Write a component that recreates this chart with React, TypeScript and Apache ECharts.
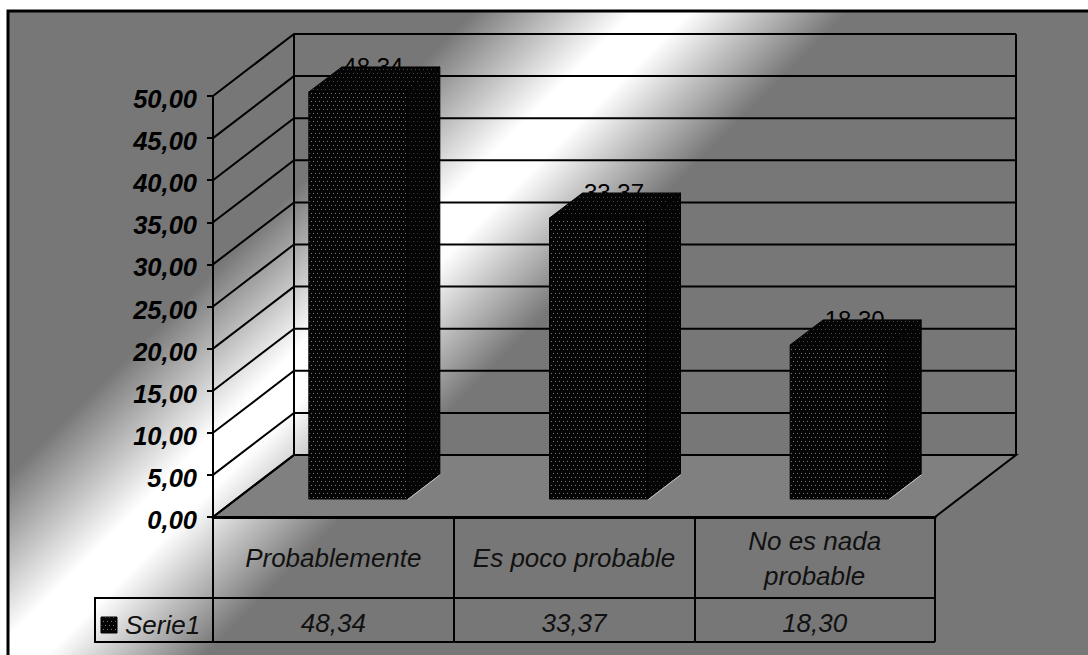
import React, { useEffect, useRef } from "react";
import * as echarts from "echarts";

const categories = ["Probablemente", "Es poco probable", "No es nada\nprobable"];
const seriesName = "Serie1";
const values = [48.34, 33.37, 18.3];
const yTicks = [0, 5, 10, 15, 20, 25, 30, 35, 40, 45, 50];

const FONT = '"Liberation Sans", Arial, sans-serif';
const PAGE_W = 1088;
const PAGE_H = 655;
const GRID = { left: 213, top: 96, width: 722, height: 421 };
// Depth of the box drawn behind the front plane
const DEPTH = { x: 81, y: 62 };
// Bar placement inside that depth
const BAR = { halfWidth: 49, inX: 24.5, inY: 18, depthX: 33, depthY: 25 };
const ROW1_BOTTOM = 598;
const ROW2_BOTTOM = 642;
const KEY_LEFT = 95;

const fmt = (v: number) => v.toFixed(2).replace(".", ",");

// Small stippled tile used as the fill of the bar faces
function stipple(dot: string) {
  const c = document.createElement("canvas");
  c.width = 8;
  c.height = 8;
  const g = c.getContext("2d")!;
  g.fillStyle = "#050505";
  g.fillRect(0, 0, 8, 8);
  g.fillStyle = dot;
  g.fillRect(1, 1, 1, 1);
  g.fillRect(5, 1, 1, 1);
  g.fillRect(3, 5, 1, 1);
  g.fillRect(7, 5, 1, 1);
  return { image: c, repeat: "repeat", imageWidth: 8, imageHeight: 8 } as any;
}

export default function App() {
  const ref = useRef<HTMLDivElement>(null);

  useEffect(() => {
    document.body.style.margin = "0";
    const chart = echarts.init(ref.current!, undefined, { renderer: "svg" });
    const frontFill = stipple("#787878");
    const topFill = stipple("#484848");
    const sideFill = stipple("#343434");
    const keyFill = stipple("#787878");
    const lineStyle = { stroke: "#000", lineWidth: 2, fill: "none" };

    chart.setOption({
      animation: false,
      backgroundColor: "#fff",
      grid: { ...GRID, containLabel: false },
      xAxis: {
        type: "category",
        data: categories,
        z: 6,
        axisLine: { lineStyle: { color: "#000", width: 3 } },
        axisTick: { show: true, length: ROW2_BOTTOM - GRID.top - GRID.height, lineStyle: { color: "#000", width: 2 } },
        axisLabel: {
          interval: 0,
          margin: 41,
          color: "#111",
          fontFamily: FONT,
          fontStyle: "italic",
          fontSize: 26,
          lineHeight: 35,
          verticalAlign: "middle",
        },
        splitLine: { show: false },
      },
      yAxis: {
        type: "value",
        min: 0,
        max: 50,
        interval: 5,
        z: 6,
        axisLine: { show: true, lineStyle: { color: "#000", width: 2 } },
        axisTick: { show: true, length: 6, lineStyle: { color: "#000", width: 2 } },
        axisLabel: {
          margin: 16,
          color: "#000",
          fontFamily: FONT,
          fontStyle: "italic",
          fontWeight: "bold",
          fontSize: 25.5,
          verticalAlign: "top",
          lineHeight: 6,
          formatter: (v: number) => fmt(v),
        },
        splitLine: { show: false },
      },
      graphic: [
        {
          type: "rect",
          z: -100,
          silent: true,
          shape: { x: 8, y: 11, width: PAGE_W + 20, height: PAGE_H + 20 },
          style: {
            stroke: "#000",
            lineWidth: 3,
            fill: new echarts.graphic.LinearGradient(
              242,
              242,
              430,
              430,
              [
                { offset: 0, color: "#777777" },
                { offset: 0.43, color: "#ffffff" },
                { offset: 0.58, color: "#ffffff" },
                { offset: 1, color: "#777777" },
              ],
              true
            ),
          },
        },
        // Key cell at the left of the data table
        {
          type: "polyline",
          z: 5,
          silent: true,
          shape: { points: [[GRID.left, ROW1_BOTTOM], [KEY_LEFT, ROW1_BOTTOM], [KEY_LEFT, ROW2_BOTTOM], [GRID.left, ROW2_BOTTOM]] },
          style: lineStyle,
        },
        {
          type: "rect",
          z: 5,
          silent: true,
          shape: { x: 101, y: 617, width: 16, height: 16 },
          style: { fill: keyFill, stroke: "#000", lineWidth: 1 },
        },
        {
          type: "text",
          z: 5,
          silent: true,
          x: 125,
          y: 625,
          style: {
            text: seriesName,
            fill: "#111",
            font: `italic 26px ${FONT}`,
            textAlign: "left",
            textVerticalAlign: "middle",
          },
        },
      ],
      series: [
        // Floor of the box
        {
          type: "custom",
          z: 1,
          silent: true,
          data: [[0, 0]],
          renderItem: (_p: any, api: any) => {
            const a = api.coord([0, 0]);
            const s = api.size([1, 0]);
            const l = a[0] - s[0] / 2;
            const r = l + s[0] * categories.length;
            const y = a[1];
            return {
              type: "polygon",
              shape: { points: [[l, y], [r, y], [r + DEPTH.x, y - DEPTH.y], [l + DEPTH.x, y - DEPTH.y]] },
              style: { fill: "#808080", stroke: "#000", lineWidth: 2 },
            };
          },
        },
        // Grid lines running along the side wall and the back wall
        {
          type: "custom",
          z: 2,
          silent: true,
          data: yTicks.map((v) => [0, v]),
          renderItem: (_p: any, api: any) => {
            const a = api.coord([0, api.value(1)]);
            const s = api.size([1, 0]);
            const l = a[0] - s[0] / 2;
            const r = l + s[0] * categories.length;
            const y = a[1];
            return {
              type: "polyline",
              shape: { points: [[l, y], [l + DEPTH.x, y - DEPTH.y], [r + DEPTH.x, y - DEPTH.y]] },
              style: lineStyle,
            };
          },
        },
        // Back-wall uprights
        {
          type: "custom",
          z: 2,
          silent: true,
          data: [[0, 50]],
          renderItem: (_p: any, api: any) => {
            const top = api.coord([0, 50]);
            const bottom = api.coord([0, 0]);
            const s = api.size([1, 0]);
            const l = top[0] - s[0] / 2 + DEPTH.x;
            const r = l + s[0] * categories.length;
            return {
              type: "group",
              children: [l, r].map((x) => ({
                type: "line",
                shape: { x1: x, y1: top[1] - DEPTH.y, x2: x, y2: bottom[1] - DEPTH.y },
                style: lineStyle,
              })),
            };
          },
        },
        // Row lines and value cells of the data table
        {
          type: "custom",
          z: 2,
          silent: true,
          data: values.map((v, i) => [i, v]),
          renderItem: (_p: any, api: any) => {
            const a = api.coord([api.value(0), 0]);
            const s = api.size([1, 0]);
            const l = a[0] - s[0] / 2;
            const r = l + s[0];
            return {
              type: "group",
              children: [
                { type: "line", shape: { x1: l, y1: ROW1_BOTTOM, x2: r, y2: ROW1_BOTTOM }, style: lineStyle },
                { type: "line", shape: { x1: l, y1: ROW2_BOTTOM, x2: r, y2: ROW2_BOTTOM }, style: lineStyle },
                {
                  type: "text",
                  x: a[0],
                  y: (ROW1_BOTTOM + ROW2_BOTTOM) / 2 + 3,
                  style: {
                    text: fmt(api.value(1)),
                    fill: "#111",
                    font: `italic 26px ${FONT}`,
                    textAlign: "center",
                    textVerticalAlign: "middle",
                  },
                },
              ],
            };
          },
        },
        // Bars with their value labels, the labels lying behind the bar tops
        {
          type: "custom",
          name: seriesName,
          z: 3,
          silent: true,
          data: values.map((v, i) => [i, v]),
          renderItem: (_p: any, api: any) => {
            const i = api.value(0);
            const v = api.value(1);
            const top = api.coord([i, v]);
            const base = api.coord([i, 0]);
            const x0 = top[0] + BAR.inX - BAR.halfWidth;
            const x1 = top[0] + BAR.inX + BAR.halfWidth;
            const yT = top[1] - BAR.inY;
            const yB = base[1] - BAR.inY;
            const dx = BAR.depthX;
            const dy = BAR.depthY;
            const edge = { stroke: "#000", lineWidth: 1 };
            return {
              type: "group",
              children: [
                {
                  type: "text",
                  x: top[0] + BAR.inX + 15.5,
                  y: yT - 25.5,
                  style: {
                    text: fmt(v),
                    fill: "#000",
                    font: `24px ${FONT}`,
                    textAlign: "center",
                    textVerticalAlign: "middle",
                  },
                },
                {
                  type: "polygon",
                  shape: { points: [[x0, yT], [x0 + dx, yT - dy], [x1 + dx, yT - dy], [x1, yT]] },
                  style: { fill: topFill, ...edge },
                },
                {
                  type: "polygon",
                  shape: { points: [[x1, yT], [x1 + dx, yT - dy], [x1 + dx, yB - dy], [x1, yB]] },
                  style: { fill: sideFill, ...edge },
                },
                {
                  type: "rect",
                  shape: { x: x0, y: yT, width: x1 - x0, height: yB - yT },
                  style: { fill: frontFill, ...edge },
                },
                {
                  type: "line",
                  shape: { x1: x1 + 1, y1: yB + 0.5, x2: x1 + dx, y2: yB - dy + 1 },
                  style: { stroke: "#c4c4c4", lineWidth: 1 },
                },
              ],
            };
          },
        },
      ],
    });
    return () => chart.dispose();
  }, []);

  return <div ref={ref} style={{ width: PAGE_W, height: PAGE_H }} />;
}
